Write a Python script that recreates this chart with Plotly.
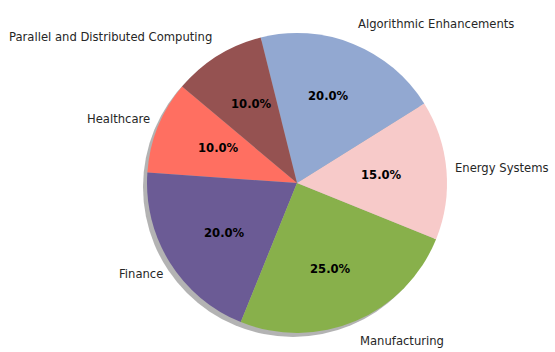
import math
import plotly.graph_objects as go

labels = ["Healthcare", "Finance", "Manufacturing", "Energy Systems",
          "Algorithmic Enhancements", "Parallel and Distributed Computing"]
values = [10, 20, 25, 15, 20, 10]
colors = ["#FF6F61", "#6B5B95", "#88B04B", "#F7CAC9", "#92A8D1", "#955251"]
start_angle = 140  # degrees, counterclockwise from 3 o'clock

W, H = 555, 352
cx, cy, r = 297, 183, 150
rx_lab, ry_lab = 142, 156
dom_x = [(cx - r) / W, (cx + r) / W]
dom_y = [(H - cy - r) / H, (H - cy + r) / H]
off = 4
sdom_x = [(cx - r - off) / W, (cx + r - off) / W]
sdom_y = [(H - cy - r - off) / H, (H - cy + r - off) / H]

fig = go.Figure()
fig.add_trace(go.Pie(values=[sum(values)], labels=["shadow"], marker=dict(colors=["#8a8a8a"]),
                     opacity=0.65, textinfo="none", hoverinfo="skip", sort=False,
                     domain=dict(x=sdom_x, y=sdom_y), showlegend=False))
fig.add_trace(go.Pie(values=values, labels=labels, marker=dict(colors=colors), sort=False,
                     direction="counterclockwise", rotation=90 - start_angle - 360 * values[0] / sum(values),
                     textinfo="none",
                     domain=dict(x=dom_x, y=dom_y), showlegend=False))

total = sum(values)
cum = start_angle
for lab, v in zip(labels, values):
    span = 360 * v / total
    mid = math.radians(cum + span / 2)
    cum += span
    c, s = math.cos(mid), math.sin(mid)
    fig.add_annotation(x=(cx + 1.1 * rx_lab * c) / W, y=(H - cy + 1.1 * ry_lab * s) / H,
                       xref="paper", yref="paper", text=lab, showarrow=False,
                       xanchor="left" if c > 0 else "right", yanchor="middle",
                       font=dict(family="DejaVu Sans", size=11.6, color="#262626"))
    fig.add_annotation(x=(cx + 0.6 * rx_lab * c) / W, y=(H - cy + 0.6 * ry_lab * s) / H,
                       xref="paper", yref="paper", text=f"{100 * v / total:.1f}%", showarrow=False,
                       xanchor="center", yanchor="middle",
                       font=dict(family="DejaVu Sans", size=11.6, color="black", weight="bold"))

fig.update_layout(width=W, height=H, margin=dict(l=0, r=0, t=0, b=0),
                  paper_bgcolor="white", plot_bgcolor="white", showlegend=False)
fig.write_html("out.html")
